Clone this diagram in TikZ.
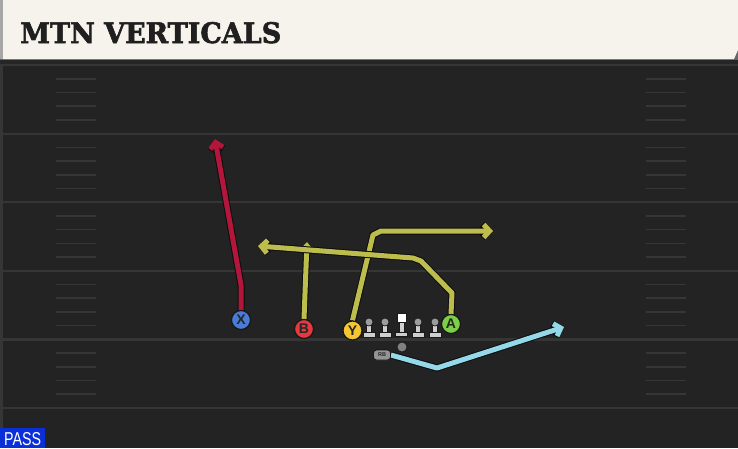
\documentclass[tikz,border=0pt]{standalone}
\usepackage{fontspec}
\setsansfont{Liberation Sans}
\newfontfamily\hdrfont{DejaVu Serif}[UprightFont=* Bold, FakeBold=2.2]
\usetikzlibrary{arrows.meta}
\definecolor{cream}{HTML}{F5F3EC}
\definecolor{field}{HTML}{232323}
\definecolor{yline}{HTML}{363636}
\definecolor{routey}{HTML}{BDBD4E}
\definecolor{router}{HTML}{B3163B}
\definecolor{routeb}{HTML}{93D9EA}
\definecolor{cX}{HTML}{4A7BD9}
\definecolor{cB}{HTML}{E5393F}
\definecolor{cY}{HTML}{F3C632}
\definecolor{cA}{HTML}{7CD045}
\definecolor{lineman}{HTML}{CFCFCF}
\definecolor{lmhead}{HTML}{9C9C9C}
\definecolor{passblue}{HTML}{0A2FD8}
\tikzset{
  player/.style={circle, draw=black!90, line width=1.2pt, minimum size=19pt, inner sep=0pt,
    font=\sffamily\bfseries\fontsize{14}{14}\selectfont, text=black!85},
  route/.style={line width=5pt, draw=#1, line join=round,
    preaction={draw=black!95, line width=7pt}},
  chev/.style={-{Straight Barb[length=6pt,width=13pt]}},
  hash/.style={draw=yline, line width=1.6pt},
  yard/.style={draw=yline, line width=2.2pt},
  lm/.style={fill=lineman, draw=black!90, line width=0.7pt},
}
\begin{document}
\begin{tikzpicture}[x=1pt,y=-1pt]
\useasboundingbox (0,0) rectangle (738,448);
% field
\fill[field] (0,59) rectangle (738,448);
\fill[black!85] (0,59) rectangle (738,64);
\fill[yline] (0,64) rectangle (2.5,448);
% yard lines
\foreach \yy in {65,133.6,202.2,270.8,339.4,408} {
  \draw[yard] (0,\yy) -- (738,\yy);
}
% hash marks
\foreach \i in {0,...,4} {
  \foreach \k in {1,...,4} {
    \pgfmathsetmacro{\hy}{65+68.6*\i+13.72*\k}
    \draw[hash] (56,\hy) -- (96,\hy);
    \draw[hash] (646,\hy) -- (686,\hy);
  }
}
% header
\fill[black!60] (0,0) rectangle (738,60);
\fill[cream] (0,0) -- (738,0) -- (738,50) -- (734,59) -- (3,59) -- (3,0) -- cycle;
\fill[black!35] (0,0) rectangle (3,59);
\node[anchor=base west, inner sep=0pt, text=black!88] (title) at (20,43)
  {\resizebox{261pt}{21pt}{\hdrfont MTN VERTICALS}};
% PASS tag
\fill[passblue] (0,428) rectangle (45,448);
\node[anchor=base west, inner sep=0pt, text=white] (pass) at (4,445.5)
  {\resizebox{37pt}{13pt}{\sffamily PASS}};
% linemen
\foreach \lx/\nm in {369/lt,385/lg,418/rg,435/rt} {
  \fill[lm] (\lx-2.5,323) rectangle (\lx+2.5,334);
  \fill[lm] (\lx-6,332.5) rectangle (\lx+6,337);
  \node[circle, fill=lmhead, draw=black!90, line width=0.7pt, minimum size=8pt, inner sep=0pt] (\nm) at (\lx,322) {};
}
\fill[lm] (399,321) rectangle (404,333);
\fill[lm] (395.5,332) rectangle (407.5,336.5);
\node[rectangle, fill=white, draw=black!90, line width=0.7pt, minimum width=9pt, minimum height=9pt, inner sep=0pt] (C) at (401.5,317.5) {};
% QB
\node[circle, fill=black!50, draw=black!90, line width=0.7pt, minimum size=10pt, inner sep=0pt] (QB) at (402,347) {};
% players (named, routes start at them)
\node[player, fill=cX] (X) at (241,320) {X};
\node[player, fill=cB] (B) at (304,329) {B};
\node[player, fill=cY] (Y) at (352.5,330.5) {Y};
\node[player, fill=cA] (A) at (451,324) {A};
\node[rectangle, rounded corners=3pt, fill=black!42, draw=black!90, line width=0.8pt,
  minimum width=17pt, minimum height=10pt, inner sep=0pt, text=black!85,
  font=\sffamily\bfseries\fontsize{5.5}{5.5}\selectfont] (RB) at (382,355) {RB};
% route ends
\coordinate (xe) at (215,139);
\coordinate (be) at (307,242);
\coordinate (ye) at (493,231);
\coordinate (ae) at (258,246);
\coordinate (re) at (564,327);
% routes
\draw[route=router, chev] (X.north) -- (241,285) -- (xe);
\draw[route=routey, -{Triangle[length=6pt,width=10pt]}] (B.north) -- (be);
\draw[route=routey, chev] (Y.north) -- (373,235) -- (381,231) -- (ye);
\draw[route=routey, chev] (A.north) -- (452,293) -- (421,261) -- (413,258) -- (ae);
\draw[route=routeb, chev] (RB.east) -- (437,368) -- (re);
% players on top of routes
\node[player, fill=cX] at (X) {X};
\node[player, fill=cB] at (B) {B};
\node[player, fill=cY] at (Y) {Y};
\node[player, fill=cA] at (A) {A};
\node[rectangle, rounded corners=3pt, fill=black!42, draw=black!90, line width=0.8pt,
  minimum width=17pt, minimum height=10pt, inner sep=0pt, text=black!85,
  font=\sffamily\bfseries\fontsize{5.5}{5.5}\selectfont] at (RB) {RB};
\end{tikzpicture}
\end{document}
